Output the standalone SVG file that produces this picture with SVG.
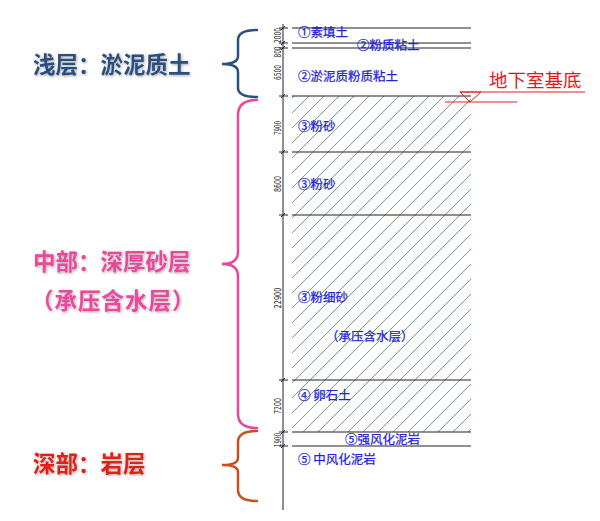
<svg xmlns="http://www.w3.org/2000/svg" width="600" height="521" viewBox="0 0 600 521">
<defs>
<pattern id="hatch" patternUnits="userSpaceOnUse" width="15" height="15">
<path d="M-1,16 L16,-1 M-4,4 L4,-4 M11,19 L19,11" stroke="#5f9868" stroke-width="0.9" fill="none"/>
</pattern>
<filter id="glow" x="-10%" y="-30%" width="120%" height="160%">
<feGaussianBlur in="SourceAlpha" stdDeviation="1.5"/>
<feOffset dx="1" dy="1" result="b"/>
<feComponentTransfer><feFuncA type="linear" slope="0.35"/></feComponentTransfer>
<feMerge><feMergeNode/><feMergeNode in="SourceGraphic"/></feMerge>
</filter>
</defs>
<style>
.layer{stroke:#222;stroke-width:1.2;fill:none}
.tick{stroke:#222;stroke-width:1;fill:none}
.dim{font-family:"DejaVu Sans Condensed","Liberation Sans",sans-serif;font-size:8px;fill:#222;text-anchor:middle}
.lbl{font-family:"Noto Sans CJK SC","DejaVu Sans",sans-serif;font-size:12.5px;fill:#2323d8;stroke:#2323d8;stroke-width:0.25}
.big{font-family:"Noto Sans CJK SC",sans-serif;font-size:22.5px;font-weight:bold}
.brace{fill:none;stroke-width:2.5;stroke-linecap:round}
</style>
<rect width="600" height="521" fill="#ffffff"/>

<g id="hatch-area">
<rect x="292" y="96" width="179" height="336" fill="url(#hatch)"/>
</g>

<g id="ruler">
<line x1="283" y1="24" x2="283" y2="510" class="tick"/>
<g class="tick">
<path d="M279,28 H288 M281,30 L285,26"/>
<path d="M279,43 H288 M281,45 L285,41"/>
<path d="M279,48 H288 M281,50 L285,46"/>
<path d="M279,96 H288 M281,98 L285,94"/>
<path d="M279,152 H288 M281,154 L285,150"/>
<path d="M279,215 H288 M281,217 L285,213"/>
<path d="M279,380 H288 M281,382 L285,378"/>
<path d="M279,432 H288 M281,434 L285,430"/>
<path d="M279,446 H288 M281,448 L285,444"/>
</g>
<text class="dim" transform="translate(281,35.5) rotate(-90)" textLength="15" lengthAdjust="spacingAndGlyphs">2000</text>
<text class="dim" transform="translate(281,52) rotate(-90)" textLength="11" lengthAdjust="spacingAndGlyphs">800</text>
<text class="dim" transform="translate(281,72.5) rotate(-90)" textLength="15" lengthAdjust="spacingAndGlyphs">6500</text>
<text class="dim" transform="translate(281,128) rotate(-90)" textLength="14" lengthAdjust="spacingAndGlyphs">7900</text>
<text class="dim" transform="translate(281,184) rotate(-90)" textLength="16" lengthAdjust="spacingAndGlyphs">8600</text>
<text class="dim" transform="translate(281,298) rotate(-90)" textLength="21" lengthAdjust="spacingAndGlyphs">22900</text>
<text class="dim" transform="translate(281,406) rotate(-90)" textLength="16" lengthAdjust="spacingAndGlyphs">7200</text>
<text class="dim" transform="translate(281,440) rotate(-90)" textLength="14" lengthAdjust="spacingAndGlyphs">1900</text>
</g>

<g id="layer-lines">
<line x1="292" y1="28" x2="471" y2="28" class="layer"/>
<line x1="292" y1="43" x2="471" y2="43" class="layer"/>
<line x1="292" y1="48" x2="471" y2="48" class="layer"/>
<line x1="292" y1="96" x2="471" y2="96" class="layer"/>
<line x1="292" y1="152" x2="471" y2="152" class="layer"/>
<line x1="292" y1="215" x2="471" y2="215" class="layer"/>
<line x1="292" y1="380" x2="471" y2="380" class="layer"/>
<line x1="292" y1="432" x2="471" y2="432" class="layer"/>
<line x1="292" y1="446" x2="471" y2="446" class="layer"/>
</g>

<g id="layer-labels">
<text class="lbl" x="298" y="37">①素填土</text>
<text class="lbl" x="357" y="50">②粉质粘土</text>
<text class="lbl" x="298" y="81">②淤泥质粉质粘土</text>
<text class="lbl" x="298" y="131">③粉砂</text>
<text class="lbl" x="298" y="189">③粉砂</text>
<text class="lbl" x="298" y="302">③粉细砂</text>
<text class="lbl" x="326" y="341">（承压含水层）</text>
<text class="lbl" x="298" y="400">④ 卵石土</text>
<text class="lbl" x="345" y="444">⑤强风化泥岩</text>
<text class="lbl" x="298" y="464">⑤ 中风化泥岩</text>
</g>

<g id="basement-marker">
<line x1="460" y1="92" x2="585" y2="92" stroke="#e02020" stroke-width="1.2"/>
<path d="M460,92 L481,92 L470,102 Z" fill="none" stroke="#e02020" stroke-width="1"/>
<line x1="445" y1="102" x2="517" y2="102" stroke="#e02020" stroke-width="1"/>
<text x="489" y="87" font-family="Noto Sans CJK SC,sans-serif" font-size="18.5" fill="#e01818">地下室基底</text>
</g>

<g id="brace-shallow">
<path class="brace" stroke="#2b4f7e" d="M257,30 Q238,30 238,40 L238,56 Q238,64 222,64 Q238,64 238,72 L238,88 Q238,97 257,97"/>
<text class="big" x="33" y="73" fill="#2b4f7e" filter="url(#glow)">浅层：淤泥质土</text>
</g>

<g id="brace-middle">
<path class="brace" stroke="#e8489a" d="M257,100 Q238,100 238,115 L238,252 Q238,264 222,264 Q238,264 238,276 L238,414 Q238,428 257,428"/>
<text class="big" x="33" y="270" fill="#e8489a" filter="url(#glow)">中部：深厚砂层</text>
<text class="big" x="31" y="309" fill="#e8489a" letter-spacing="1" filter="url(#glow)">（承压含水层）</text>
</g>

<g id="brace-deep">
<path class="brace" stroke="#c8501e" d="M257,431 Q238,431 238,442 L238,458 Q238,465 222,465 Q238,465 238,472 L238,490 Q238,501 257,501"/>
<text class="big" x="33" y="472" fill="#e02018" filter="url(#glow)">深部：岩层</text>
</g>
</svg>
